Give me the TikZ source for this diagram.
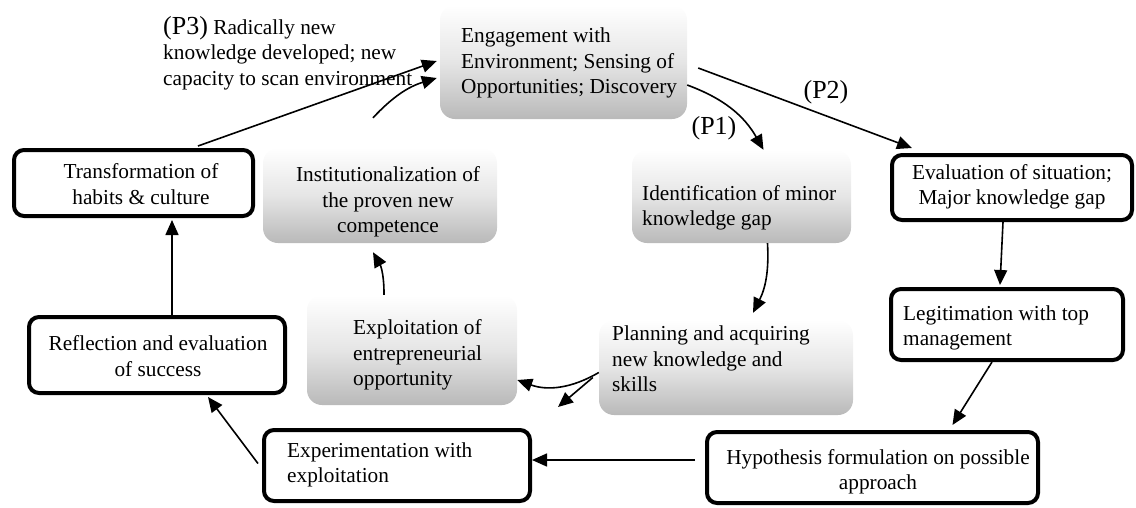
\documentclass[tikz,border=0pt]{standalone}
\usepackage{fontspec}
\setmainfont{Liberation Serif}
\usetikzlibrary{arrows.meta,calc}
\begin{document}
\begin{tikzpicture}[x=1pt,y=-1pt,
  graybox/.style={rectangle, rounded corners=15pt, top color=white, bottom color=gray!55, middle color=gray!20, draw=none, inner sep=0pt},
  whitebox/.style={rectangle, rounded corners=10pt, draw=black, line width=4pt, fill=white, inner sep=0pt},
  txt/.style={inner sep=0pt, font=\fontsize{21.3}{25.5}\selectfont},
  lbl/.style={inner sep=0pt, font=\fontsize{26}{26}\selectfont},
  arr/.style={line width=1.6pt, -{Triangle[length=15pt,width=13pt]}},
]
\useasboundingbox (0,0) rectangle (1136,507);

% gray boxes
\node[graybox, minimum width=247pt, minimum height=114pt] (eng) at (563.5,62) {};
\node[txt, align=left, anchor=west] (engt) at (461,63) {Engagement with\\Environment; Sensing of\\Opportunities; Discovery};

\node[graybox, minimum width=219pt, minimum height=93pt] (ident) at (741.5,196.5) {};
\node[txt, align=left, anchor=west] (identt) at (642,208) {Identification of minor\\knowledge gap};

\node[graybox, minimum width=234pt, minimum height=95pt] (inst) at (380,195.5) {};
\node[txt, align=center] (instt) at (388,202) {Institutionalization of\\the proven new\\competence};

\node[graybox, minimum width=210pt, minimum height=110pt] (expl) at (412,350) {};
\node[txt, align=left, anchor=west] (explt) at (353,355) {Exploitation of\\entrepreneurial\\opportunity};

\node[graybox, minimum width=254pt, minimum height=95pt] (plan) at (726,367.5) {};
\node[txt, align=left, anchor=west] (plant) at (612,359) {Planning and acquiring\\new knowledge and\\skills};

% white boxes
\node[whitebox, minimum width=239pt, minimum height=66pt] (trans) at (133.5,183) {};
\node[txt, align=center] (transt) at (141,184) {Transformation of\\habits \& culture};

\node[whitebox, minimum width=240pt, minimum height=65pt] (eval) at (1012,187.5) {};
\node[txt, align=center] (evalt) at (1012,187) {Evaluation of situation;\\Major knowledge gap};

\node[whitebox, minimum width=232pt, minimum height=71pt] (legit) at (1007,324.5) {};
\node[txt, align=left, anchor=west] (legitt) at (903,328) {Legitimation with top\\management};

\node[whitebox, minimum width=331pt, minimum height=71pt] (hyp) at (872.5,467.5) {};
\node[txt, align=center] (hypt) at (878,472) {Hypothesis formulation on possible\\approach};

\node[whitebox, minimum width=266pt, minimum height=71pt] (exp) at (397,465.5) {};
\node[txt, align=left, anchor=west] (expt) at (287,465) {Experimentation with\\exploitation};

\node[whitebox, minimum width=256pt, minimum height=76pt] (refl) at (157,355) {};
\node[txt, align=center] (reflt) at (158,356) {Reflection and evaluation\\of success};

% labels
\node[txt, align=left, anchor=west] (p3) at (163,53) {{\fontsize{26}{26}\selectfont (P3)} Radically new\\knowledge developed; new\\capacity to scan environment};
\node[lbl] (p1) at (714,128) {(P1)};
\node[lbl] (p2) at (826,92) {(P2)};

% connectors
\draw[arr] ([xshift=64.5pt,yshift=2pt]trans.north) -- ([xshift=-3pt,yshift=1pt]eng.west);
\draw[arr] ([xshift=-7pt,yshift=30pt]inst.north) to[bend left=15] ([xshift=-3pt,yshift=-16pt]eng.west);
\draw[arr] ([xshift=11pt,yshift=-6pt]eng.east) -- ([xshift=-100pt,yshift=5pt]eval.north);
\draw[arr] ([yshift=-23pt]eng.east) to[bend left=20] ([xshift=22pt]ident.north);
\draw[arr] ([xshift=26pt]ident.south) to[bend left=15] ([xshift=27pt,yshift=7pt]plan.north);
\draw[arr] ([xshift=-9pt]eval.south) -- ([xshift=-7pt,yshift=2pt]legit.north);
\draw[arr] ([xshift=-15pt]legit.south) -- ([xshift=80pt,yshift=5pt]hyp.north);
\coordinate (hs) at ([xshift=-10pt,yshift=7.5pt]hyp.west);
\draw[arr] (hs) -- (hs -| exp.east);
\draw[arr] ([xshift=-4pt,yshift=2pt]exp.west) -- ([xshift=51pt,yshift=-2pt]refl.south);
\coordinate (rs) at ([xshift=15pt]refl.north);
\draw[arr] (rs) -- ($(rs |- trans.south)+(0,2)$);
\draw[arr] ([xshift=-28pt]expl.north) to[bend right=15] ([xshift=-7pt,yshift=-9pt]inst.south);
\draw[arr] ([yshift=-5pt]plan.west) to[bend left=25] ([yshift=-30pt]expl.east);
\coordinate (fp) at (558,407);
\draw[arr] ([xshift=-6pt,yshift=-10pt]plan.west) -- (fp);
\end{tikzpicture}
\end{document}
